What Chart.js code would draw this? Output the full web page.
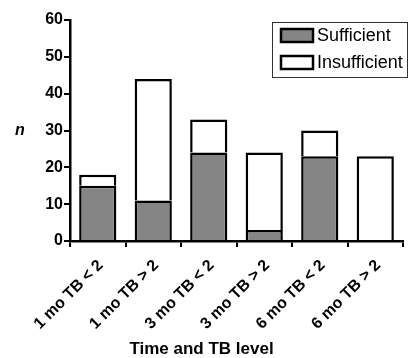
<!DOCTYPE html>
<html>
<head>
<meta charset="utf-8">
<script src="https://cdn.jsdelivr.net/npm/chart.js@4.4.1/dist/chart.umd.min.js"></script>
<style>
	html, body { margin: 0; padding: 0; background: #fff; }
	#wrap { width: 408px; height: 358px; }
</style>
</head>
<body>
<div id="wrap"><canvas id="chart"></canvas></div>
<script>
const categories = ["1 mo TB < 2", "1 mo TB > 2", "3 mo TB < 2", "3 mo TB > 2", "6 mo TB < 2", "6 mo TB > 2"];
const sufficient = [15, 11, 24, 3, 23, 0];
const insufficient = [3, 33, 9, 21, 7, 23];
const yTicks = [0, 10, 20, 30, 40, 50, 60];

const FONT = "'Liberation Sans', Arial, Helvetica, sans-serif";

// legend box drawn inside the plot, top right, like the original figure
const boxLegend = {
	id: "boxLegend",
	afterDraw: chart => {
		const ctx = chart.ctx;
		const x = 272, y = 22, w = 136, h = 56;
		ctx.save();
		ctx.fillStyle = "#fff";
		ctx.fillRect(x, y, w, h);
		ctx.strokeStyle = "#333";
		ctx.lineWidth = 1;
		ctx.strokeRect(x + 0.5, y + 0.5, w - 1, h - 1);
		chart.data.datasets.forEach((ds, i) => {
			const sy = y + 7 + i * 27;
			ctx.fillStyle = ds.backgroundColor;
			ctx.fillRect(x + 9, sy, 32, 13);
			ctx.strokeStyle = "#000";
			ctx.lineWidth = 2.5;
			ctx.strokeRect(x + 9, sy, 32, 13);
			ctx.fillStyle = "#000";
			ctx.font = `18px ${FONT}`;
			ctx.textBaseline = "middle";
			ctx.fillText(ds.label, x + 45, sy + 7);
		});
		// unrotated "n" axis label
		ctx.font = `italic bold 16px ${FONT}`;
		ctx.textAlign = "center";
		ctx.fillText("n", 20, 131);
		ctx.restore();
	}
};

new Chart(document.getElementById("chart"), {
	type: "bar",
	data: {
		labels: categories,
		datasets: [{
			label: "Sufficient",
			data: sufficient,
			backgroundColor: "#858585",
			borderColor: "#000",
			borderWidth: 2.5,
			borderSkipped: "start"
		}, {
			label: "Insufficient",
			data: insufficient,
			backgroundColor: "#ffffff",
			borderColor: "#000",
			borderWidth: 2.5,
			borderSkipped: "start"
		}]
	},
	options: {
		responsive: true,
		maintainAspectRatio: false,
		animation: false,
		layout: { padding: { top: 20, right: 5, left: 0, bottom: 0 } },
		datasets: { bar: { categoryPercentage: 1, barPercentage: 0.67 } },
		plugins: {
			legend: { display: false },
			tooltip: { enabled: false },
			title: {
				display: true,
				position: "bottom",
				text: "Time and TB level",
				color: "#000",
				font: { family: FONT, size: 17, weight: "bold", lineHeight: 1 },
				padding: { top: 3, bottom: 0 }
			}
		},
		scales: {
			x: {
				stacked: true,
				afterFit: scale => { scale.height = 97; },
				grid: { display: true, drawOnChartArea: false, color: "#000", lineWidth: 2, tickLength: 6 },
				border: { color: "#000", width: 2.5 },
				ticks: {
					color: "#000",
					font: { family: FONT, size: 16, weight: "bold" },
					minRotation: 45,
					maxRotation: 45,
					padding: 9,
					labelOffset: 3
				}
			},
			y: {
				stacked: true,
				min: 0,
				max: 60,
				afterFit: scale => { scale.width = 70; },
				afterBuildTicks: scale => { scale.ticks = yTicks.map(v => ({ value: v })); },
				grid: { display: true, drawOnChartArea: false, color: "#000", lineWidth: 2, tickLength: 6 },
				border: { color: "#000", width: 2.5 },
				ticks: {
					color: "#000",
					font: { family: FONT, size: 16, weight: "bold" },
					padding: 1
				}
			}
		}
	},
	plugins: [boxLegend]
});
</script>
</body>
</html>
